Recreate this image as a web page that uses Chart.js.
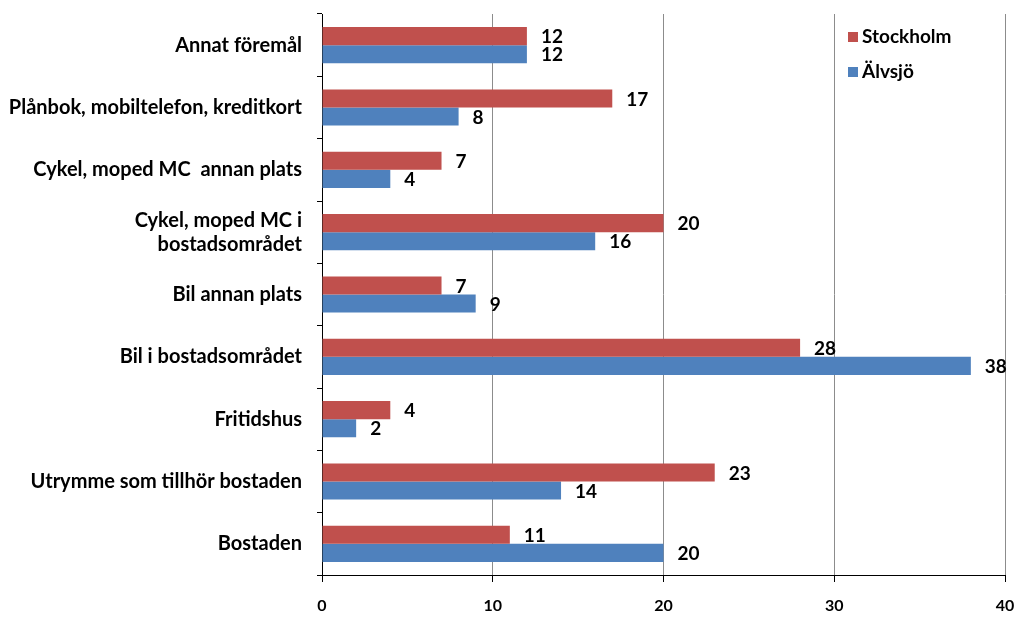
<!DOCTYPE html>
<html>
<head>
<meta charset="utf-8">
<script src="https://cdn.jsdelivr.net/npm/chart.js@4"></script>
<style>
  body { margin: 0; background: #fff; }
  #wrap { width: 1016px; height: 617px; }
</style>
</head>
<body>
<div id="wrap"><canvas id="myChart1"></canvas></div>
<script>
const categories = [
  "Annat föremål",
  "Plånbok, mobiltelefon, kreditkort",
  "Cykel, moped MC  annan plats",
  ["Cykel, moped MC i", "bostadsområdet"],
  "Bil annan plats",
  "Bil i bostadsområdet",
  "Fritidshus",
  "Utrymme som tillhör bostaden",
  "Bostaden"
];
const stockholm = [12, 17, 7, 20, 7, 28, 4, 23, 11];
const alvsjo = [12, 8, 4, 16, 9, 38, 2, 14, 20];
const seriesNames = ["Stockholm", "Älvsjö"];
const xTicks = [0, 10, 20, 30, 40];

const FONT = "Lato";

// numbers at the end of each bar
const valueLabels = {
  id: "valueLabels",
  afterDatasetsDraw(chart) {
    const ctx = chart.ctx;
    ctx.save();
    ctx.font = "bold 19px " + FONT;
    ctx.fillStyle = "#000";
    ctx.textBaseline = "middle";
    ctx.textAlign = "left";
    chart.data.datasets.forEach((ds, i) => {
      chart.getDatasetMeta(i).data.forEach((bar, j) => {
        ctx.fillText(ds.data[j], bar.x + 14, bar.y + 1);
      });
    });
    ctx.restore();
  }
};

// legend sits inside the plot, top right
const innerLegend = {
  id: "innerLegend",
  afterDraw(chart) {
    const ctx = chart.ctx;
    ctx.save();
    ctx.font = "bold 19px " + FONT;
    ctx.textBaseline = "middle";
    chart.data.datasets.forEach((ds, i) => {
      const y = 37 + i * 35;
      ctx.fillStyle = ds.backgroundColor;
      ctx.fillRect(848, y - 5, 10, 10);
      ctx.fillStyle = "#000";
      ctx.fillText(ds.label, 862, y);
    });
    ctx.restore();
  }
};

function showChart() {
  const ctx = document.getElementById("myChart1");

  new Chart(ctx, {
    type: "bar",
    data: {
      labels: categories,
      datasets: [
        {
          label: seriesNames[0],
          data: stockholm,
          backgroundColor: "#C0504D",
        },
        {
          label: seriesNames[1],
          data: alvsjo,
          backgroundColor: "#4F81BD",
        }
      ],
    },
    plugins: [valueLabels, innerLegend],
    options: {
      indexAxis: "y",
      responsive: true,
      maintainAspectRatio: false,
      animation: false,
      layout: {
        padding: { top: 14, right: 11, bottom: 0, left: 0 }
      },
      datasets: {
        bar: {
          categoryPercentage: 0.58,
          barPercentage: 1.0,
        }
      },
      plugins: {
        legend: { display: false },
        tooltip: { enabled: false },
      },
      scales: {
        x: {
          min: 0,
          max: 40,
          afterBuildTicks: (scale) => {
            scale.ticks = xTicks.map((v) => ({ value: v }));
          },
          afterFit: (scale) => {
            scale.height = 42;
            scale.paddingLeft = 0;
            scale.paddingRight = 0;
          },
          border: { color: "#000", width: 1 },
          grid: {
            color: "#8c8c8c",
            tickColor: "#000",
            tickLength: 7,
          },
          ticks: {
            color: "#000",
            padding: 14,
            font: { family: FONT, size: 16, weight: "bold" },
          }
        },
        y: {
          afterFit: (scale) => {
            scale.width = 322;
            scale.paddingTop = 0;
            scale.paddingBottom = 0;
          },
          border: { color: "#000", width: 1 },
          grid: {
            offset: true,
            drawOnChartArea: false,
            color: "#000",
            tickLength: 5,
          },
          ticks: {
            color: "#000",
            padding: 15,
            font: { family: FONT, size: 20, weight: "bold" },
          }
        }
      }
    },
  });
}

showChart();
</script>
</body>
</html>
